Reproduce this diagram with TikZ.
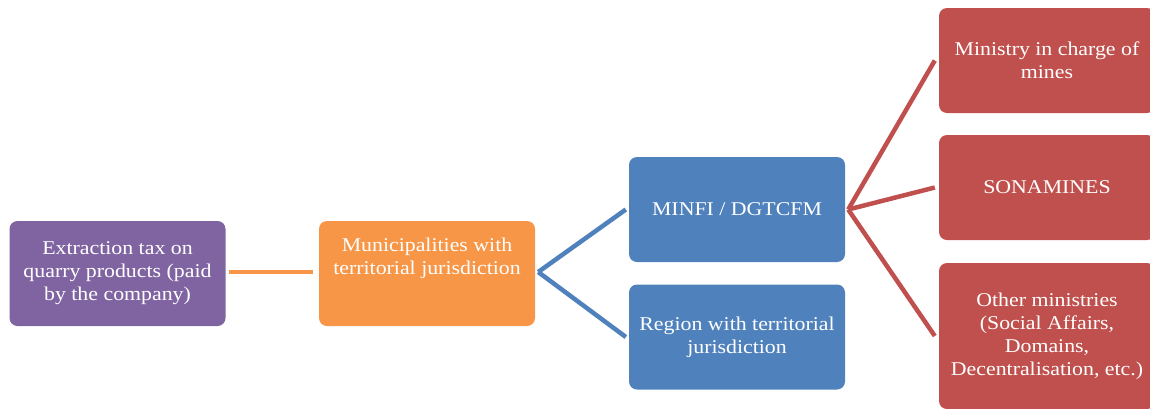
\documentclass[tikz,border=0pt]{standalone}
\usepackage{fontspec}
\setmainfont[FakeStretch=1.12]{Liberation Serif}
\definecolor{cpurple}{HTML}{8064A2}
\definecolor{corange}{HTML}{F79646}
\definecolor{cblue}{HTML}{4F81BD}
\definecolor{cred}{HTML}{C0504D}
\begin{document}
\begin{tikzpicture}[x=1pt,y=-1pt,
  box/.style={rectangle, rounded corners=8pt, minimum width=216pt, minimum height=105pt, inner sep=0pt, text=white, align=center, font=\fontsize{19.5}{23}\selectfont},
  lbl/.style={text=white, align=center, inner sep=0pt, font=\fontsize{19.5}{23}\selectfont},
  link/.style={line width=4.5pt}]
\useasboundingbox (0,0) rectangle (1150,408);
\clip (0,0) rectangle (1150,408);
\node[box, fill=cpurple] (tax) at (117.5,273.5) {Extraction tax on\\quarry products (paid\\by the company)};
\node[box, fill=corange] (mun) at (427,273.5) {};
\node[lbl] (munt) at (427,258) {Municipalities with\\territorial jurisdiction};
\node[box, fill=cblue] (minfi) at (737,209.5) {MINFI / DGTCFM};
\node[box, fill=cblue] (reg) at (737,337) {Region with territorial\\jurisdiction};
\node[box, fill=cred] (mines) at (1047,60.5) {Ministry in charge of\\mines};
\node[box, fill=cred] (sona) at (1047,187.5) {SONAMINES};
\node[box, fill=cred, minimum height=146pt] (other) at (1047,336) {Other ministries\\(Social Affairs,\\Domains,\\Decentralisation, etc.)};
\draw[link, draw=corange] ([xshift=3pt,yshift=1.5pt]tax.east) -- ([xshift=-6pt,yshift=1.5pt]mun.west);
\draw[link, draw=cblue] ([xshift=3pt,yshift=1.5pt]mun.east) -- ([xshift=-3pt]minfi.west);
\draw[link, draw=cblue] ([xshift=3pt,yshift=1.5pt]mun.east) -- ([xshift=-3pt]reg.west);
\draw[link, draw=cred] ([xshift=3pt]minfi.east) -- ([xshift=-4pt]mines.west);
\draw[link, draw=cred] ([xshift=3pt]minfi.east) -- ([xshift=-4pt]sona.west);
\draw[link, draw=cred] ([xshift=3pt]minfi.east) -- ([xshift=-4pt]other.west);
\end{tikzpicture}
\end{document}
